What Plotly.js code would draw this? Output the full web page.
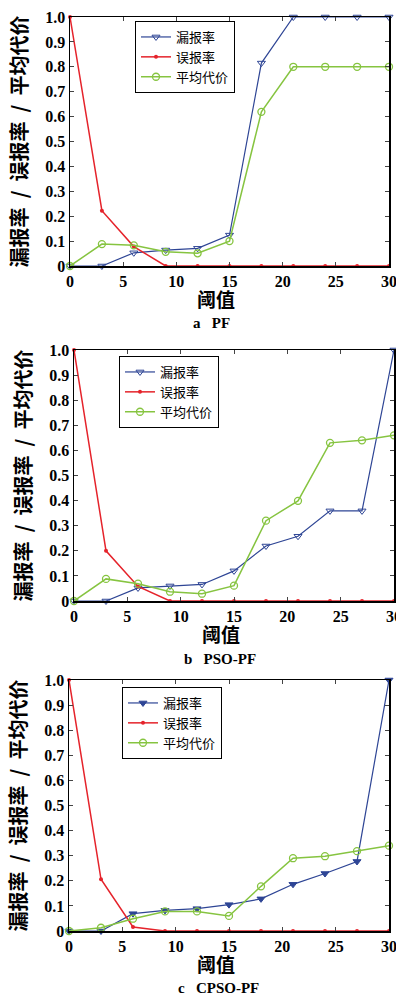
<!DOCTYPE html>
<html><head><meta charset="utf-8">
<script src="https://cdn.plot.ly/plotly-3.0.1.min.js"></script>
<style>html,body{margin:0;padding:0;background:#fff}#chart{width:396px;height:996px}</style>
</head><body><div id="chart"></div>
<script>
const thresholds = [0,3,6,9,12,15,18,21,24,27,30];
const seriesNames = ['漏报率','误报率','平均代价'];
const panelTitles = ['a\u00a0\u00a0\u00a0PF','b\u00a0\u00a0\u00a0PSO-PF','c\u00a0\u00a0\u00a0CPSO-PF'];
const xTitle = '阈值';
const yTitle = '漏报率\u00a0\u00a0/\u00a0\u00a0误报率\u00a0\u00a0/\u00a0\u00a0平均代价';
const yTickVals = [0,0.1,0.2,0.3,0.4,0.5,0.6,0.7,0.8,0.9,1.0];
const yTickText = ['0','0.1','0.2','0.3','0.4','0.5','0.6','0.7','0.8','0.9','1.0'];
const xTickVals = [0,5,10,15,20,25,30];

// Panel a: PF
const pfMiss  = [0,0,0.053,0.064,0.071,0.124,0.815,1.0,1.0,1.0,1.0];
const pfFalse = [1.0,0.222,0.078,0,0,0,0,0,0,0,0];
const pfCost  = [0,0.088,0.083,0.057,0.051,0.10,0.619,0.80,0.80,0.80,0.80];
// Panel b: PSO-PF
const psoMiss  = [0,0,0.052,0.06,0.066,0.12,0.219,0.258,0.359,0.359,1.0];
const psoFalse = [1.0,0.20,0.058,0,0,0,0,0,0,0,0];
const psoCost  = [0,0.088,0.069,0.037,0.029,0.061,0.32,0.399,0.63,0.64,0.66];
// Panel c: CPSO-PF
const cpsoMiss  = [0,0,0.069,0.082,0.089,0.105,0.128,0.186,0.229,0.277,1.0];
const cpsoFalse = [1.0,0.206,0.016,0,0,0,0,0,0,0,0];
const cpsoCost  = [0,0.013,0.049,0.078,0.078,0.06,0.178,0.29,0.298,0.318,0.34];

const blue = '#2e4595', red = '#e5232b', green = '#86c440';
const panels = [
  {miss:pfMiss, fa:pfFalse, cost:pfCost, xd:[70/396,389/396], yd:[1-266/996,1-17/996], leg:[135/396,1-21/996], missSym:'triangle-down-open', tx:216, ty:299, sx:211, sy:323},
  {miss:psoMiss, fa:psoFalse, cost:psoCost, xd:[74/396,394/396], yd:[1-601/996,1-350/996], leg:[119/396,1-356/996], missSym:'triangle-down-open', tx:221, ty:633, sx:220, sy:659},
  {miss:cpsoMiss, fa:cpsoFalse, cost:cpsoCost, xd:[69/396,389/396], yd:[1-931/996,1-680/996], leg:[122/396,1-687/996], missSym:'triangle-down', tx:216, ty:963, sx:219, sy:988}
];

const serif = 'Liberation Serif, Times New Roman, serif';
const cjk = 'Noto Sans CJK SC, sans-serif';
const traces = [];
const layout = {
  width:396, height:996, margin:{l:0,r:0,t:0,b:0},
  paper_bgcolor:'#fff', plot_bgcolor:'#fff', annotations:[]
};
panels.forEach((p,i)=>{
  const n = i===0 ? '' : String(i+1);
  const xa = 'x'+n, ya = 'y'+n, lg = 'legend'+n;
  traces.push({x:thresholds, y:p.miss, name:seriesNames[0], xaxis:xa, yaxis:ya, legend:lg, mode:'lines+markers',
    line:{color:blue,width:1.2}, marker:{symbol:p.missSym,size:7,color:blue,line:{color:blue,width:1}}, cliponaxis:false});
  traces.push({x:thresholds, y:p.fa, name:seriesNames[1], xaxis:xa, yaxis:ya, legend:lg, mode:'lines+markers',
    line:{color:red,width:1.5}, marker:{symbol:'circle',size:4,color:red}, cliponaxis:false});
  traces.push({x:thresholds, y:p.cost, name:seriesNames[2], xaxis:xa, yaxis:ya, legend:lg, mode:'lines+markers',
    line:{color:green,width:1.5}, marker:{symbol:'circle-open',size:7,color:green,line:{color:green,width:1.3}}, cliponaxis:false});
  layout['xaxis'+n] = {domain:p.xd, anchor:ya, range:[0,30], tickvals:xTickVals, ticks:'inside', ticklen:4,
    showline:true, mirror:'ticks', linecolor:'#000', linewidth:1.5, showgrid:false, zeroline:false, ticklabeloverflow:'allow',
    tickfont:{family:serif,size:16,color:'#000',weight:'bold'}};
  layout['yaxis'+n] = {domain:p.yd, anchor:xa, range:[0,1], tickvals:yTickVals, ticktext:yTickText, ticks:'inside', ticklen:4,
    showline:true, mirror:'ticks', linecolor:'#000', linewidth:1.5, showgrid:false, zeroline:false, ticklabeloverflow:'allow',
    tickfont:{family:serif,size:16,color:'#000',weight:'bold'},
    title:{text:yTitle, font:{family:cjk,size:20,color:'#000',weight:'bold'}, standoff:12}};
  layout[lg] = {x:p.leg[0], y:p.leg[1], xanchor:'left', yanchor:'top', bgcolor:'#fff', bordercolor:'#000', borderwidth:1,
    font:{family:cjk,size:13,color:'#000'}, itemwidth:30, tracegroupgap:0};
  layout.annotations.push({text:xTitle, xref:'paper', yref:'paper', x:p.tx/396, y:1-p.ty/996,
    xanchor:'center', yanchor:'middle', showarrow:false, font:{family:cjk,size:19,color:'#000',weight:'bold'}});
  layout.annotations.push({text:panelTitles[i], xref:'paper', yref:'paper', x:p.sx/396, y:1-p.sy/996,
    xanchor:'center', yanchor:'middle', showarrow:false, font:{family:serif,size:15,color:'#000',weight:'bold'}});
});
Plotly.newPlot('chart', traces, layout, {displayModeBar:false, staticPlot:true});
</script></body></html>
